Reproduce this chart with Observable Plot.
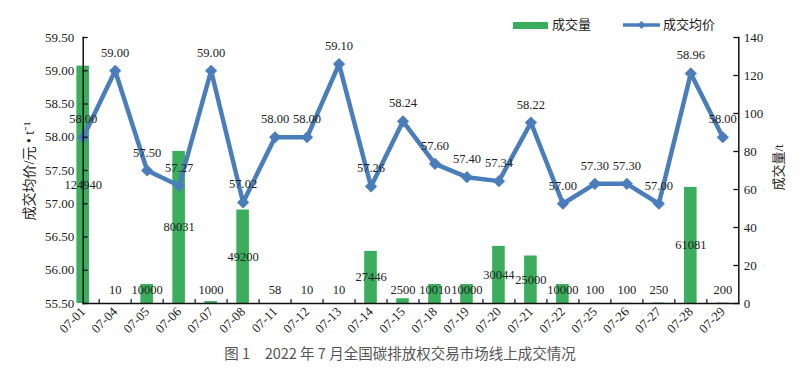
<!DOCTYPE html>
<html><head><meta charset="utf-8">
<script src="https://cdn.jsdelivr.net/npm/d3@7"></script>
<script src="https://cdn.jsdelivr.net/npm/@observablehq/plot@0.6"></script>
<style>
body{margin:0;background:#fff}
#wrap{position:relative;width:800px;height:373px;overflow:hidden}
#wrap svg{display:block}
.lg{position:absolute;font-family:'Liberation Serif','Noto Sans CJK SC',serif;font-size:13px;color:#222;line-height:1}
.ytitle{position:absolute;font-family:'Liberation Serif','Noto Sans CJK SC',serif;color:#222;white-space:nowrap;transform-origin:center center}
#cap{position:absolute;left:0;width:800px;top:342px;text-align:center;font-family:'Noto Sans CJK SC','Noto Sans',sans-serif;font-size:14.5px;color:#555}
</style>
</head><body><div id="wrap"></div>
<script>
const dates = ["07-01","07-04","07-05","07-06","07-07","07-08","07-11","07-12","07-13","07-14","07-15","07-18","07-19","07-20","07-21","07-22","07-25","07-26","07-27","07-28","07-29"];
const prices = [58.00,59.00,57.50,57.27,59.00,57.02,58.00,58.00,59.10,57.26,58.24,57.60,57.40,57.34,58.22,57.00,57.30,57.30,57.00,58.96,58.00];
const volumes = [124940,10,10000,80031,1000,49200,58,10,10,27446,2500,10010,10000,30044,25000,10000,100,100,250,61081,200];
const priceTicks = [55.5,56,56.5,57,57.5,58,58.5,59,59.5];
const volTicks = [0,20,40,60,80,100,120,140];
const seriesNames = ["成交量","成交均价"];
const yTitleLeft = "成交均价/元 • t⁻¹";
const yTitleRight = "成交量/t";
const caption = "图 1　2022 年 7 月全国碳排放权交易市场线上成交情况";

const PMIN = 55.5, PMAX = 59.5, VMAX = 140; // right axis in thousand t
const volToY = v => PMIN + (v / 1000) / VMAX * (PMAX - PMIN);
const volTickToY = v => PMIN + v / VMAX * (PMAX - PMIN);
const data = dates.map((d, i) => ({date: d, price: prices[i], vol: volumes[i]}));

const GREEN = "#3aae5c", BLUE = "#4a7ebb";
const W = 800, H = 373, mL = 82.7, mR = 800 - 738.3, mT = 37, mB = 373 - 303;
const frameW = W - mL - mR, frameH = H - mT - mB;

const plot = Plot.plot({
  width: W, height: H,
  marginLeft: mL, marginRight: mR, marginTop: mT, marginBottom: mB,
  x: {type: "band", domain: dates, range: [66.7, 738.3], padding: 0, round: false},
  y: {domain: [PMIN, PMAX]},
  style: {fontFamily: "'Liberation Serif', serif", fontSize: "13px", color: "#222", background: "transparent"},
  marks: [
    Plot.barY(data, {x: "date", y1: PMIN, y2: d => volToY(d.vol), fill: GREEN, insetLeft: 9.7, insetRight: 9.7}),
    Plot.line(data, {x: "date", y: "price", stroke: BLUE, strokeWidth: 4.5}),
    Plot.dot(data, {x: "date", y: "price", symbol: "diamond2", r: 5.5, fill: BLUE}),
    Plot.text(data, {x: "date", y: d => volToY(Math.max(d.vol / 2, 7200)), text: d => String(d.vol), fontSize: 12.5, fill: "#222"}),
    Plot.text(data, {x: "date", y: "price", text: d => d.price.toFixed(2), dy: -18, fontSize: 12.5, fill: "#222"}),
    Plot.frame({anchor: "left", stroke: "#111", strokeWidth: 1.5}),
    Plot.frame({anchor: "right", stroke: "#111", strokeWidth: 1.5}),
    Plot.frame({anchor: "bottom", stroke: "#111", strokeWidth: 1.5}),
    Plot.tickY(priceTicks, {y: d => d, stroke: "#111", strokeWidth: 1.3, insetRight: frameW - 5}),
    Plot.tickY(volTicks.map(volTickToY), {y: d => d, stroke: "#111", strokeWidth: 1.3, insetLeft: frameW - 5}),
    Plot.ruleX(dates.slice(0, -1), {x: d => d, dx: 16, stroke: "#111", strokeWidth: 1.2, insetTop: frameH - 4}),
    Plot.axisY(priceTicks, {anchor: "left", tickSize: 0, tickPadding: 9, tickFormat: d => d.toFixed(2), label: null, fontSize: 13}),
    Plot.axisY(volTicks.map(volTickToY), {anchor: "right", tickSize: 0, tickPadding: 5, tickFormat: d => String(Math.round((d - PMIN) / (PMAX - PMIN) * VMAX)), label: null, fontSize: 13}),
    Plot.axisX({anchor: "bottom", tickSize: 0, tickPadding: 6, tickRotate: -45, label: null, fontSize: 13})
  ]
});
const wrap = document.getElementById("wrap");
wrap.appendChild(plot);

// legend
function addLegend() {
  const g = document.createElement("div");
  g.style.cssText = "position:absolute;left:513px;top:21.5px;width:35px;height:7px;background:" + GREEN;
  wrap.appendChild(g);
  const t1 = document.createElement("div");
  t1.className = "lg"; t1.style.left = "552px"; t1.style.top = "18px"; t1.textContent = seriesNames[0];
  wrap.appendChild(t1);
  const s = document.createElementNS("http://www.w3.org/2000/svg", "svg");
  s.setAttribute("width", 40); s.setAttribute("height", 12);
  s.style.cssText = "position:absolute;left:622px;top:19px";
  s.innerHTML = `<line x1="1" y1="6" x2="38" y2="6" stroke="${BLUE}" stroke-width="3.5"/><path d="M19.5 2 L23.5 6 L19.5 10 L15.5 6 Z" fill="${BLUE}"/>`;
  wrap.appendChild(s);
  const t2 = document.createElement("div");
  t2.className = "lg"; t2.style.left = "663px"; t2.style.top = "18px"; t2.textContent = seriesNames[1];
  wrap.appendChild(t2);
}
addLegend();

function addYTitle(text, cx, cy, size) {
  const d = document.createElement("div");
  d.className = "ytitle"; d.textContent = text; d.style.fontSize = size + "px";
  wrap.appendChild(d);
  const w = d.offsetWidth, h = d.offsetHeight;
  d.style.left = (cx - w / 2) + "px"; d.style.top = (cy - h / 2) + "px";
  d.style.transform = "rotate(-90deg)";
}
addYTitle(yTitleLeft, 28, 171, 14);
addYTitle(yTitleRight, 777, 167, 13);

const c = document.createElement("div");
c.id = "cap"; c.textContent = caption;
wrap.appendChild(c);
</script>
</body></html>
